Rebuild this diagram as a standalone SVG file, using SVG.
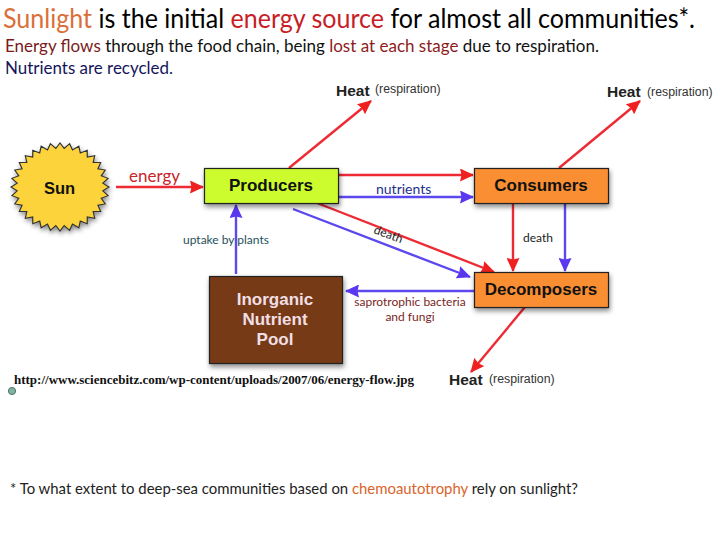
<svg xmlns="http://www.w3.org/2000/svg" width="720" height="540" viewBox="0 0 720 540">
<style>
.cal{font-family:Lato,"Open Sans",sans-serif}
.hv{font-family:"Liberation Sans",Arial,sans-serif;font-weight:700;text-anchor:middle;fill:#111}
.heat{font-family:"Liberation Sans",Arial,sans-serif;font-weight:700;font-size:15.500px;fill:#222}
.resp{font-family:"Liberation Sans",Arial,sans-serif;font-size:12.300px;fill:#333}
.box{stroke:#222;stroke-width:1.2;filter:url(#sh)}
.r{stroke:#ee2b35;stroke-width:2.4;fill:none;marker-end:url(#ar)}
.b{stroke:#5b48ee;stroke-width:2.4;fill:none;marker-end:url(#ab)}
</style>
<defs>
<filter id="sh" x="-20%" y="-20%" width="140%" height="150%"><feDropShadow dx="1" dy="3" stdDeviation="2.500" flood-color="#000" flood-opacity=".45"/></filter>
<marker id="ar" viewBox="0 0 14 13" refX="13" refY="6.500" markerWidth="14" markerHeight="13" markerUnits="userSpaceOnUse" orient="auto"><path d="M0 0L14 6.500L0 13L1.500 6.500Z" fill="#ee2020"/></marker>
<marker id="ab" viewBox="0 0 14 13" refX="13" refY="6.500" markerWidth="14" markerHeight="13" markerUnits="userSpaceOnUse" orient="auto"><path d="M0 0L14 6.500L0 13L1.500 6.500Z" fill="#5b38f0"/></marker>
</defs>
<rect width="720" height="540" fill="#fff"/>
<g id="heading" class="cal">
<text x="3" y="28" font-size="27" textLength="692" lengthAdjust="spacingAndGlyphs" fill="#000"><tspan fill="#d9703a">Sunlight</tspan> is the initial <tspan fill="#c81e28">energy source</tspan> for almost all communities*.</text>
<text x="5" y="52" font-size="17" textLength="594" lengthAdjust="spacingAndGlyphs" fill="#111"><tspan fill="#7a1a1a">Energy flows</tspan> through the food chain, being <tspan fill="#8c1c1c">lost at each stage</tspan> due to respiration.</text>
<text x="5" y="74" font-size="17" textLength="168" lengthAdjust="spacingAndGlyphs" fill="#14145c">Nutrients are recycled.</text>
</g>
<g id="connectors">
<path class="r" d="M116 187H203"/>
<path class="r" d="M289 168L371 101"/>
<path class="r" d="M559 168L640 101"/>
<path class="r" d="M338 175H473"/>
<path class="b" d="M338 197H473"/>
<path class="r" d="M317 203L494 272"/>
<path class="b" d="M293 209L470 277"/>
<path class="r" d="M513 204V271"/>
<path class="b" d="M565 204V271"/>
<path class="b" d="M474 291H346"/>
<path class="r" d="M525 307L471 372"/>
<path class="b" d="M236 274V205"/>
</g>
<g id="sun">
<path transform="translate(60 187) scale(1 .9)" filter="url(#sh)" fill="#fcd33a" stroke="#333" stroke-width="1.2" stroke-linejoin="miter" d="M49 0L42.8 4.2L48.1 9.6L41.2 12.5L45.3 18.8L37.9 20.3L40.7 27.2L33.2 27.3L34.7 34.7L27.3 33.2L27.2 40.7L20.3 37.9L18.8 45.3L12.5 41.2L9.6 48.1L4.2 42.8L0 49L-4.2 42.8L-9.6 48.1L-12.5 41.2L-18.8 45.3L-20.3 37.9L-27.2 40.7L-27.3 33.2L-34.7 34.7L-33.2 27.3L-40.7 27.2L-37.9 20.3L-45.3 18.8L-41.2 12.5L-48.1 9.6L-42.8 4.2L-49 0L-42.8 -4.2L-48.1 -9.6L-41.2 -12.5L-45.3 -18.8L-37.9 -20.3L-40.7 -27.2L-33.2 -27.3L-34.7 -34.7L-27.3 -33.2L-27.2 -40.7L-20.3 -37.9L-18.8 -45.3L-12.5 -41.2L-9.6 -48.1L-4.2 -42.8L0 -49L4.2 -42.8L9.6 -48.1L12.5 -41.2L18.8 -45.3L20.3 -37.9L27.2 -40.7L27.3 -33.2L34.7 -34.7L33.2 -27.3L40.7 -27.2L37.9 -20.3L45.3 -18.8L41.2 -12.5L48.1 -9.6L42.8 -4.2Z"/>
<text class="hv" x="59.500" y="194" font-size="16.500">Sun</text>
</g>
<g id="producers">
<rect class="box" x="204.500" y="168.500" width="134" height="35" fill="#cdfc2e"/>
<text class="hv" x="271" y="191" font-size="17">Producers</text>
</g>
<g id="consumers">
<rect class="box" x="474.500" y="168.500" width="134" height="35" fill="#f98e33"/>
<text class="hv" x="541" y="191" font-size="17">Consumers</text>
</g>
<g id="decomposers">
<rect class="box" x="474.500" y="272.500" width="134" height="35" fill="#f98e33"/>
<text class="hv" x="541" y="295" font-size="17">Decomposers</text>
</g>
<g id="pool">
<rect class="box" x="209.500" y="276.500" width="133" height="87" fill="#763a18"/>
<text class="hv" x="275" y="305" font-size="17" style="fill:#f2dfe6">Inorganic</text>
<text class="hv" x="275" y="325" font-size="17" style="fill:#f2dfe6">Nutrient</text>
<text class="hv" x="275" y="345" font-size="17" style="fill:#f2dfe6">Pool</text>
</g>
<g id="labels">
<text class="heat" x="336" y="96">Heat</text><text class="resp" x="375" y="93">(respiration)</text>
<text class="heat" x="607" y="97">Heat</text><text class="resp" x="647" y="96">(respiration)</text>
<text class="heat" x="449" y="385">Heat</text><text class="resp" x="489" y="383">(respiration)</text>
<text class="cal" x="129" y="182" font-size="17" fill="#c8242c">energy</text>
<text class="cal" x="376" y="194" font-size="14" fill="#23308c">nutrients</text>
<text class="cal" x="183" y="244" font-size="12" fill="#25505a">uptake by plants</text>
<text class="cal" transform="translate(373 233) rotate(20)" font-size="12" fill="#222">death</text>
<text class="cal" x="523" y="242" font-size="12" fill="#222">death</text>
<text class="cal" x="410" y="306" font-size="12" text-anchor="middle" fill="#7a1f25">saprotrophic bacteria</text>
<text class="cal" x="410" y="321" font-size="12" text-anchor="middle" fill="#7a1f25">and fungi</text>
<text x="14" y="384" font-family="Liberation Serif,serif" font-weight="700" font-size="12" textLength="400" lengthAdjust="spacingAndGlyphs" fill="#111">http://www.sciencebitz.com/wp-content/uploads/2007/06/energy-flow.jpg</text>
<circle cx="12" cy="391" r="3.600" fill="#7fb59b" stroke="#55707a"/>
<text class="cal" x="10" y="494" font-size="15" textLength="568" lengthAdjust="spacingAndGlyphs" fill="#222">* To what extent to deep-sea communities based on <tspan fill="#d9642a">chemoautotrophy</tspan> rely on sunlight?</text>
</g>
</svg>
